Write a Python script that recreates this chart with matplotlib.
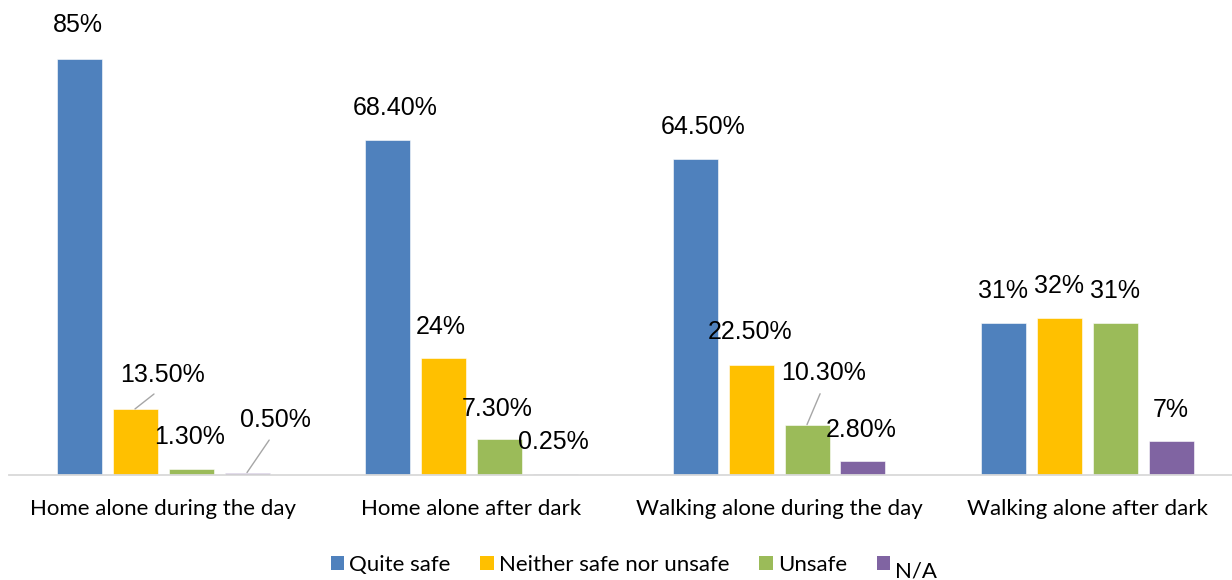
import matplotlib
matplotlib.use("Agg")
import matplotlib.pyplot as plt
import matplotlib.transforms as mtransforms
from matplotlib.patches import Patch
import numpy as np

categories = ["Home alone during the day", "Home alone after dark",
              "Walking alone during the day", "Walking alone after dark"]
series_names = ["Quite safe", "Neither safe nor unsafe", "Unsafe", "N/A"]
quite_safe = [85, 68.4, 64.5, 31]
neither = [13.5, 24, 22.5, 32]
unsafe = [1.3, 7.3, 10.3, 31]
na = [0.5, 0.25, 2.8, 7]
value_labels = [
    ["85%", "68.40%", "64.50%", "31%"],
    ["13.50%", "24%", "22.50%", "32%"],
    ["1.30%", "7.30%", "10.30%", "31%"],
    ["0.50%", "0.25%", "2.80%", "7%"],
]
colors = ["#4F81BD", "#FFC000", "#9BBB59", "#8064A2"]

# label offsets in pixels (dx right, dy up) relative to bar top center
offsets = [
    [(-1, 34), (8, 32), (8, 32), (0, 32)],
    [(28, 34), (-2, 31), (-1, 33), (0, 32)],
    [(-1, 32), (-2, 30), (17, 52), (0, 32)],
    [(28, 53), (-2, 32), (-2, 31), (0, 31)],
]
leaders = [
    [False, False, False, False],
    [True, False, False, False],
    [False, False, True, False],
    [True, False, False, False],
]

W, H = 1232, 580
fig = plt.figure(figsize=(W / 100, H / 100), dpi=100)
ax = fig.add_axes([9 / W, 105 / H, 1223 / W, 475 / H])
ax.set_xlim(-0.5, -0.5 + 1223 / 308)
ax.set_ylim(0, 475 / (416 / 85))

data = [quite_safe, neither, unsafe, na]
x = np.arange(len(categories))
step = 56 / 308
width = 45 / 308
lab_font = "Liberation Sans"
for s, vals in enumerate(data):
    xs = x + (s - 1.5) * step
    ax.bar(xs, vals, width=width, color=colors[s], edgecolor="white",
           linewidth=0.4, label=series_names[s], zorder=2)
    for g in range(len(categories)):
        dx, dy = offsets[s][g]
        kw = {}
        if leaders[s][g]:
            kw["arrowprops"] = dict(arrowstyle="-", color="#A6A6A6", lw=1.0,
                                    relpos=(0.5, 0.0), shrinkA=5, shrinkB=0)
        ax.annotate(value_labels[s][g], xy=(xs[g], vals[g]),
                    xytext=(dx, dy), textcoords="offset pixels",
                    ha="center", va="center", fontsize=18,
                    family=lab_font, color="#000000", **kw)

for sp in ["top", "left", "right"]:
    ax.spines[sp].set_visible(False)
ax.spines["bottom"].set_color("#D9D9D9")
ax.spines["bottom"].set_linewidth(1.3)
ax.spines["bottom"].set_zorder(3)
ax.set_yticks([])
ax.set_xticks(x)
ax.set_xticklabels(categories, fontsize=16, family="Lato", color="#000000")
ax.tick_params(axis="x", length=0, pad=17)

handles = [Patch(facecolor=c, edgecolor="none") for c in colors]
leg = fig.legend(handles, series_names, loc="center",
                 bbox_to_anchor=(634 / W, (H - 565) / H), ncol=4,
                 frameon=False, prop={"family": "Lato", "size": 16},
                 handlelength=0.6, handleheight=0.6, handletextpad=0.23,
                 columnspacing=1.35, borderaxespad=0, borderpad=0)
try:
    t = leg.get_texts()[3]
    t.set_transform(t.get_transform() +
                    mtransforms.ScaledTranslation(0, -6 / 100, fig.dpi_scale_trans))
except Exception:
    pass

fig.savefig("out.png", dpi=100)
